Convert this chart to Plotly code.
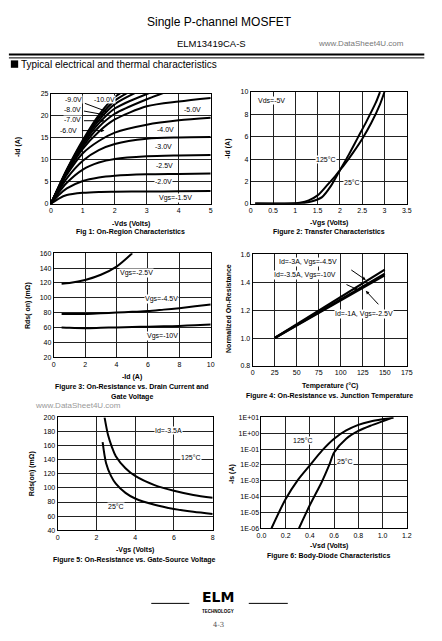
import plotly.graph_objects as go

W, H = 442, 641
FONT = "Liberation Sans, Arial, sans-serif"

# ---------------- Data ----------------
# Fig 1: On-region characteristics (-Id vs -Vds for each Vgs)
vds = [0, 0.25, 0.5, 1, 1.5, 2, 3, 4, 5]
vgs_labels = ["-1.5V", "-2.0V", "-2.5V", "-3.0V", "-4.0V", "-5.0V",
              "-6.0V", "-7.0V", "-8.0V", "-9.0V", "-10.0V"]
id_vgs_1p5 = [0, 1.2, 2.0, 2.5, 2.7, 2.75, 2.8, 2.85, 2.9]
id_vgs_2p0 = [0, 2.0, 3.5, 5.2, 6.0, 6.4, 6.7, 6.8, 6.9]
id_vgs_2p5 = [0, 2.6, 4.8, 7.8, 9.4, 10.2, 10.8, 11.0, 11.1]
id_vgs_3p0 = [0, 3.0, 5.8, 9.8, 12.2, 13.6, 14.8, 15.1, 15.2]
id_vgs_4p0 = [0, 3.4, 6.6, 11.5, 14.3, 16.2, 18.0, 19.0, 19.6]
id_vgs_5p0 = [0, 3.6, 7.0, 12.5, 16.4, 19.2, 22.2, 23.3, 24.1]
id_vgs_6p0 = [0, 3.7, 7.2, 13.0, 17.5, 20.5, 23.8, 26.5, None]
id_vgs_7p0 = [0, 3.8, 7.4, 13.5, 18.3, 21.7, 25.0, 27.5, None]
id_vgs_8p0 = [0, 3.85, 7.6, 13.9, 19.0, 22.7, 26.5, None, None]
id_vgs_9p0 = [0, 3.9, 7.7, 14.2, 19.6, 23.5, 27.5, None, None]
id_vgs_10p0 = [0, 4.0, 7.8, 14.5, 20.2, 24.3, 28.5, None, None]
fig1_series = [id_vgs_1p5, id_vgs_2p0, id_vgs_2p5, id_vgs_3p0, id_vgs_4p0,
               id_vgs_5p0, id_vgs_6p0, id_vgs_7p0, id_vgs_8p0, id_vgs_9p0,
               id_vgs_10p0]

# Fig 2: Transfer characteristics
vgs_25c = [0.1, 1.0, 1.2, 1.4, 1.6, 1.8, 2.0, 2.2, 2.4, 2.6, 2.8, 2.9]
id_25c = [0.02, 0.03, 0.08, 0.25, 0.6, 1.6, 3.0, 4.4, 5.9, 7.4, 9.0, 10.0]
vgs_125c = [0.1, 0.9, 1.1, 1.3, 1.5, 1.7, 1.9, 2.0, 2.1, 2.3, 2.5, 2.7, 2.9, 3.0]
id_125c = [0.02, 0.03, 0.1, 0.3, 0.75, 1.6, 2.5, 3.0, 3.5, 4.6, 5.8, 7.2, 8.9, 10.0]

# Fig 3: On-resistance vs drain current
id_fig3 = [0.5, 1, 2, 3, 4, 5, 6, 7, 8, 9, 10]
rds_vgs_2p5 = [119, 120, 124, 131, 142, 160, None, None, None, None, None]
rds_vgs_4p5 = [78, 78, 78, 79, 80, 81, 82, 84, 86, 88.5, 91]
rds_vgs_10 = [60, 59.5, 59, 59.5, 60, 60.5, 61, 61.5, 62, 63, 64]

# Fig 4: Normalized on-resistance vs junction temperature
temp_c = [25, 150]
rn_3a_4p5v = [1.0, 1.49]
rn_3p5a_10v = [1.0, 1.46]
rn_1a_2p5v = [1.0, 1.45]

# Fig 5: On-resistance vs gate-source voltage
vgs_f5_25c = [2.32, 2.5, 2.75, 3.0, 3.5, 4.0, 5.0, 6.0, 7.0, 8.0]
rds_f5_25c = [165, 135, 117, 106, 93, 85, 76, 70, 66, 63]
vgs_f5_125c = [2.42, 2.6, 2.8, 3.0, 3.5, 4.0, 5.0, 6.0, 7.0, 8.0]
rds_f5_125c = [200, 175, 158, 145, 128, 117, 104, 96, 90, 86]

# Fig 6: Body-diode characteristics
vsd_125c = [0.083, 0.2, 0.3, 0.4, 0.5, 0.6, 0.7, 0.8, 0.9, 1.0, 1.09]
is_125c = [1e-6, 7e-5, 1.1e-3, 9.5e-3, 8e-2, 0.45, 1.5, 3.4, 5.6, 7.8, 10]
vsd_25c = [0.31, 0.4, 0.5, 0.56, 0.6, 0.7, 0.8, 0.9, 1.0, 1.09]
is_25c = [1e-6, 2.9e-5, 9e-4, 1e-2, 6e-2, 0.45, 1.4, 3.0, 5.6, 10]

# Tick labels
f1_xt = [0, 1, 2, 3, 4, 5]
f1_yt = [0, 5, 10, 15, 20, 25]
f2_xt = [0, 0.5, 1, 1.5, 2, 2.5, 3, 3.5]
f2_xtt = ["0", "0.5", "1", "1.5", "2", "2.5", "3", "3.5"]
f2_yt = [0, 2, 4, 6, 8, 10]
f3_xt = [0, 2, 4, 6, 8, 10]
f3_yt = [20, 40, 60, 80, 100, 120, 140, 160]
f4_xt = [0, 25, 50, 75, 100, 125, 150, 175]
f4_yt = [0.8, 1.0, 1.2, 1.4, 1.6]
f4_ytt = ["0.8", "1.0", "1.2", "1.4", "1.6"]
f5_xt = [0, 2, 4, 6, 8]
f5_yt = [40, 60, 80, 100, 120, 140, 160, 180, 200]
f6_xt = [0, 0.2, 0.4, 0.6, 0.8, 1.0, 1.2]
f6_xtt = ["0.0", "0.2", "0.4", "0.6", "0.8", "1.0", "1.2"]
f6_yt = [1e-6, 1e-5, 1e-4, 1e-3, 1e-2, 1e-1, 1e0, 1e1]
f6_ytt = ["1E-06", "1E-05", "1E-04", "1E-03", "1E-02", "1E-01", "1E+00", "1E+01"]

# ---------------- Layout helpers ----------------
def px(x):
    return x / W

def py(y):
    return 1 - y / H

fig = go.Figure()
LINE = dict(color="black", width=2, shape="spline", smoothing=0.8)

def add(x, y, ax, line=None):
    fig.add_trace(go.Scatter(x=x, y=y, mode="lines", xaxis="x" + ax, yaxis="y" + ax,
                             line=line or LINE, showlegend=False, hoverinfo="skip",
                             connectgaps=False))

for s in fig1_series:
    add(vds, s, "1")
add(vgs_25c, id_25c, "2")
add(vgs_125c, id_125c, "2")
add(id_fig3, rds_vgs_2p5, "3")
add(id_fig3, rds_vgs_4p5, "3")
add(id_fig3, rds_vgs_10, "3")
lin = dict(color="black", width=2.2)
add(temp_c, rn_3a_4p5v, "4", lin)
add(temp_c, rn_3p5a_10v, "4", lin)
add(temp_c, rn_1a_2p5v, "4", lin)
add(vgs_f5_25c, rds_f5_25c, "5")
add(vgs_f5_125c, rds_f5_125c, "5")
add(vsd_125c, is_125c, "6")
add(vsd_25c, is_25c, "6")

def axis(dom, rng, tv, tt=None, log=False, anchor=None):
    d = dict(domain=dom, range=rng, tickvals=tv, showline=True, linecolor="black",
             linewidth=1, mirror=True, showgrid=True, gridcolor="#222", gridwidth=1,
             zeroline=False, ticks="", fixedrange=True, anchor=anchor,
             tickfont=dict(family=FONT, size=7, color="black"))
    if tt is not None:
        d["ticktext"] = tt
    if log:
        d["type"] = "log"
    return d

boxes = {
    "1": ((47, 211), (91, 202)),
    "2": ((252, 412), (89, 202)),
    "3": ((50, 211), (252, 357)),
    "4": ((254, 412), (253, 366)),
    "5": ((54, 213), (418, 532)),
    "6": ((263, 412), (418, 530)),
}
def xd(k):
    a, b = boxes[k][0]
    return [px(a), px(b)]
def yd(k):
    a, b = boxes[k][1]
    return [py(b), py(a)]

lay = {}
lay["xaxis"] = axis(xd("1"), [0, 5], f1_xt, anchor="y")
lay["yaxis"] = axis(yd("1"), [0, 25], f1_yt, anchor="x")
lay["xaxis2"] = axis(xd("2"), [0, 3.5], f2_xt, f2_xtt, anchor="y2")
lay["yaxis2"] = axis(yd("2"), [0, 10], f2_yt, anchor="x2")
lay["xaxis3"] = axis(xd("3"), [0, 10], f3_xt, anchor="y3")
lay["yaxis3"] = axis(yd("3"), [20, 160], f3_yt, anchor="x3")
lay["xaxis4"] = axis(xd("4"), [0, 175], f4_xt, anchor="y4")
lay["yaxis4"] = axis(yd("4"), [0.8, 1.6], f4_yt, f4_ytt, anchor="x4")
lay["xaxis5"] = axis(xd("5"), [0, 8], f5_xt, anchor="y5")
lay["yaxis5"] = axis(yd("5"), [40, 200], f5_yt, anchor="x5")
lay["xaxis6"] = axis(xd("6"), [0, 1.2], f6_xt, f6_xtt, anchor="y6")
lay["yaxis6"] = axis(yd("6"), [-6, 1], f6_yt, f6_ytt, log=True, anchor="x6")

ann = []
def T(x, y, text, size=7, bold=False, color="black", angle=0, bg=None, xanchor="center", fam=FONT):
    if bold:
        text = "<b>" + text + "</b>"
    d = dict(x=px(x), y=py(y), xref="paper", yref="paper", text=text, showarrow=False,
             font=dict(family=fam, size=size, color=color), textangle=angle,
             xanchor=xanchor, yanchor="middle", borderpad=0)
    if bg:
        d["bgcolor"] = bg
    ann.append(d)

def A(x0, y0, x1, y1):
    ann.append(dict(x=px(x1), y=py(y1), xref="paper", yref="paper", ax=x0 - x1, ay=y0 - y1,
                    axref="pixel", ayref="pixel", text="", showarrow=True, arrowhead=2,
                    arrowsize=0.7, arrowwidth=1, arrowcolor="black"))

# Header
T(220, 18, "Single P-channel MOSFET", size=12)
T(212, 40, "ELM13419CA-S", size=9.5)
T(365, 40, "www.DataSheet4U.com", size=8, color="#777")
T(15, 61, "Typical electrical and thermal characteristics", size=10, xanchor="left")

# Fig 1 labels
T(129, 222, "-Vds (Volts)", bold=True)
T(129, 231, "Fig 1: On-Region Characteristics", bold=True)
T(14, 145, "-Id (A)", bold=True, angle=-90)
for (x, y, t) in [(70, 97, "-9.0V"), (102, 97, "-10.0V"), (69, 107, "-8.0V"), (69, 117, "-7.0V"),
                  (65, 128, "-6.0V"), (192, 107, "-5.0V"), (165, 127, "-4.0V"),
                  (163, 144, "-3.0V"), (164, 163, "-2.5V"), (163, 179, "-2.0V"),
                  (175, 196, "Vgs=-1.5V")]:
    T(x, y, t, bg="white")
A(81, 100, 105, 109)
A(80, 108, 102, 112)
A(80, 118, 102, 118)
A(78, 128, 102, 128)

# Fig 2 labels
T(332, 221, "-Vgs (Volts)", bold=True)
T(332, 231, "Figure 2: Transfer Characteristics", bold=True)
T(229, 146, "-Id (A)", bold=True, angle=-90)
T(273, 98, "Vds=-5V", bg="white")
T(329, 157, "125°C", bg="white")
T(356, 180, "25°C", bg="white")

# Fig 3 labels
T(130, 377, "-Id (A)", bold=True)
T(130, 387, "Figure 3: On-Resistance vs. Drain Current and", bold=True)
T(130, 397, "Gate Voltage", bold=True)
T(23, 305, "Rds( on) (mΩ)", bold=True, angle=-90)
T(135, 272, "Vgs=-2.5V", bg="white")
T(160, 298, "Vgs=-4.5V", bg="white")
T(162, 336, "Vgs=-10V", bg="white")

# Fig 4 labels
T(333, 386, "Temperature (°C)", bold=True)
T(333, 396, "Figure 4: On-Resistance vs. Junction Temperature", bold=True)
T(229, 308, "Normalized On-Resistance", bold=True, angle=-90)
T(311, 261, "Id=-3A, Vgs=-4.5V", bg="white")
T(308, 274, "Id=-3.5A, Vgs=-10V", bg="white")
T(368, 313, "Id=-1A, Vgs=-2.5V", bg="white")
A(354, 268, 370, 279)
A(349, 283, 362, 289)
A(384, 305, 370, 290)

# Fig 5 labels
T(75, 406, "www.DataSheet4U.com", size=8, color="#999")
T(133, 552, "-Vgs (Volts)", bold=True)
T(133, 562, "Figure 5: On-Resistance vs. Gate-Source Voltage", bold=True)
T(27, 475, "Rds(on) (mΩ)", bold=True, angle=-90)
T(168, 431, "Id=-3.5A", bg="white")
T(191, 459, "125°C", bg="white")
T(114, 508, "25°C", bg="white")

# Fig 6 labels
T(332, 548, "-Vsd (Volts)", bold=True)
T(332, 558, "Figure 6: Body-Diode Characteristics", bold=True)
T(233, 475, "-Is (A)", bold=True, angle=-90)
T(306, 441, "125°C", bg="white")
T(349, 463, "25°C", bg="white")

# Footer
T(218, 600, "<b>ELM</b>", size=14, fam="DejaVu Sans, sans-serif")
T(218, 614, "<b>TECHNOLOGY</b>", size=4.5)
T(219, 628, "4-3", size=7, color="#555", fam="DejaVu Serif, serif")

def hline(x0, x1, y, w):
    return dict(type="line", xref="paper", yref="paper", x0=px(x0), x1=px(x1),
                y0=py(y), y1=py(y), line=dict(color="black", width=w))

shapes = [
    hline(4, 430, 51, 2),
    hline(4, 430, 54.5, 1),
    hline(150, 189, 606, 1),
    hline(250, 290, 606, 1),
    dict(type="rect", xref="paper", yref="paper", x0=px(6), x1=px(13.5), y0=py(64.5), y1=py(57),
         fillcolor="black", line=dict(width=0)),
]

fig.update_layout(width=W, height=H, margin=dict(l=0, r=0, t=0, b=0, pad=0),
                  paper_bgcolor="white", plot_bgcolor="white", annotations=ann,
                  shapes=shapes, showlegend=False, font=dict(family=FONT, color="black"),
                  **lay)
fig.write_html("out.html", config={"displayModeBar": False},
               post_script="document.body.style.margin='0px';document.body.style.overflow='hidden';")
